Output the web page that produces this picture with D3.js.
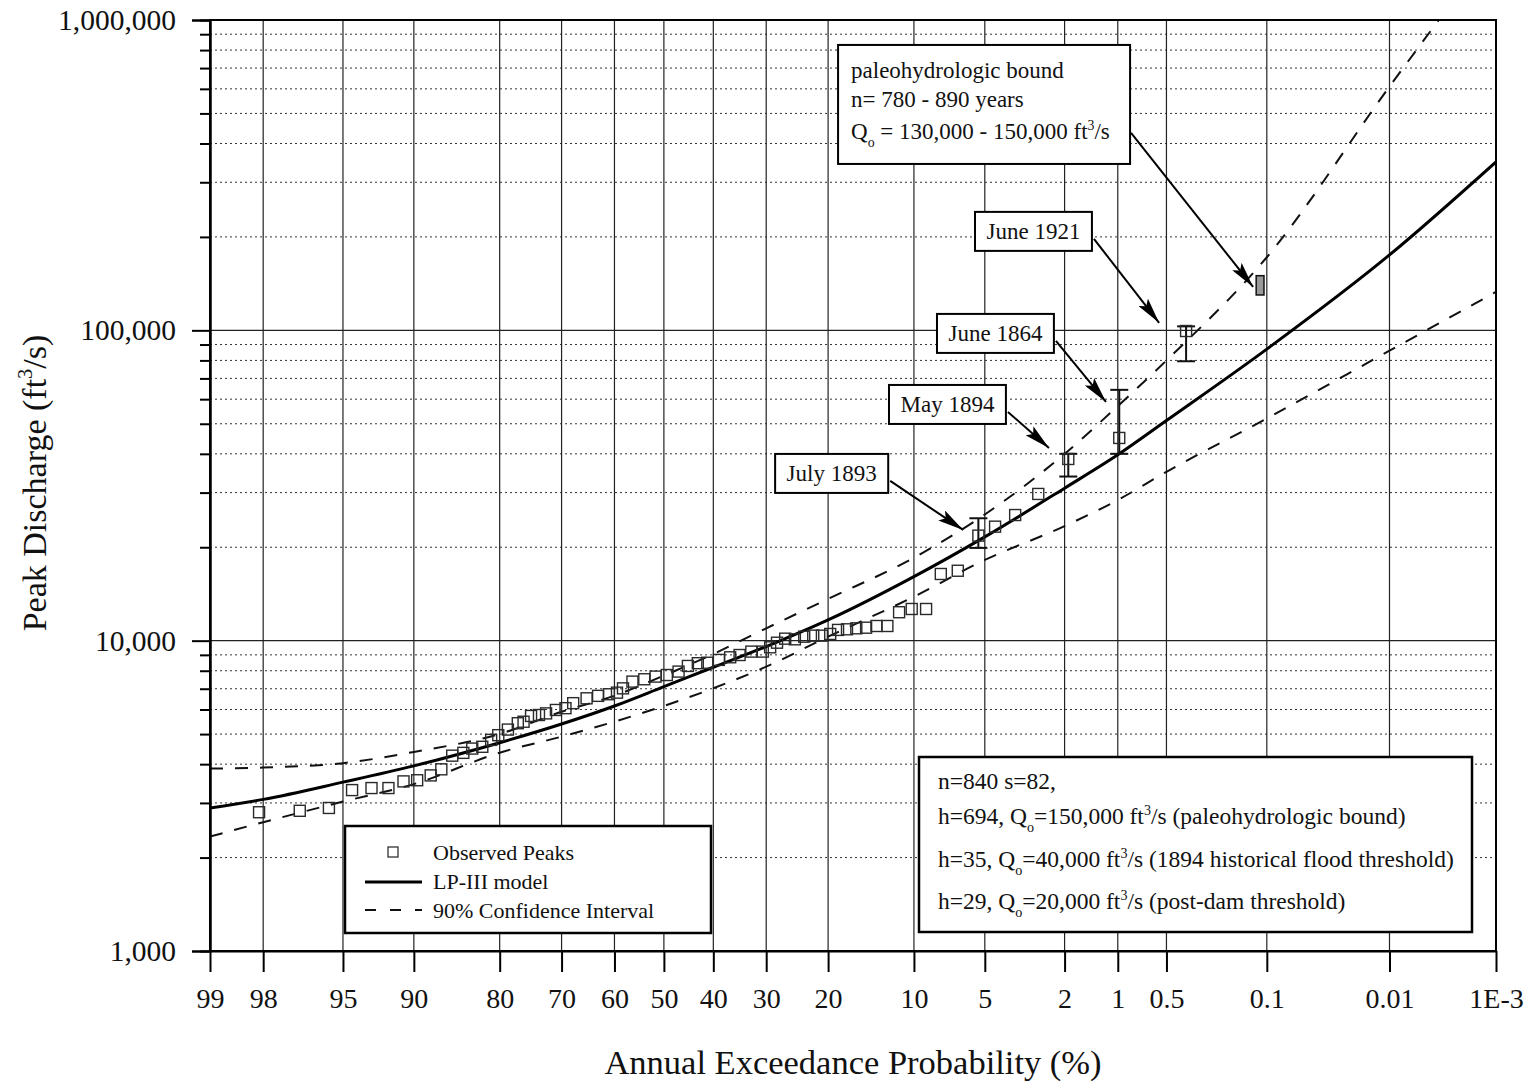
<!DOCTYPE html>
<html lang="en">
<head>
<meta charset="utf-8">
<title>Peak discharge frequency</title>
<script src="https://cdn.jsdelivr.net/npm/d3@7"></script>
<style>
body { margin: 0; background: #fff; }
text { font-family: "Liberation Serif", "Times New Roman", serif; fill: #111; }
</style>
</head>
<body>
<script>
// x axis: annual exceedance probability (%), normal probability scale
var probTicks = [99, 98, 95, 90, 80, 70, 60, 50, 40, 30, 20, 10, 5, 2, 1, 0.5, 0.1, 0.01, 0.001];
var probLabels = ["99", "98", "95", "90", "80", "70", "60", "50", "40", "30", "20", "10", "5", "2", "1", "0.5", "0.1", "0.01", "1E-3"];
var qTicks = [1000, 10000, 100000, 1000000];

// fitted LP-III curve and 90% confidence limits
var curveP = [99, 98, 95, 90, 80, 70, 60, 50, 40, 30, 20, 10, 5, 2, 1, 0.5, 0.1, 0.01, 0.001];
var lp3Q  = [2890, 3080, 3500, 3950, 4690, 5390, 6160, 7110, 8210, 9570, 11660, 16080, 21600, 31000, 39700, 51200, 87000, 175000, 349000];
var ciHiQ = [3870, 3900, 4030, 4380, 5005, 5900, 6650, 7715, 9060, 10960, 13630, 18500, 25500, 40000, 57000, 80000, 172000, 610000, 1760000];
var ciLoQ = [2336, 2600, 3030, 3450, 4355, 4906, 5483, 6160, 7024, 8245, 10300, 13860, 18200, 23400, 28400, 35000, 52000, 86000, 133000];

// observed peaks (plotting position %, discharge ft3/s)
var obsP = [98.1, 96.9, 95.7, 94.5, 93.3, 92.1, 90.9, 89.7, 88.4, 87.3,
            86.1, 84.8, 83.7, 82.4, 81.2, 80.2, 78.8, 77.3, 76.4, 75.2,
            73.9, 72.7, 71.0, 69.3, 67.9, 65.4, 63.2, 61.1, 59.5, 58.3,
            56.4, 54.0, 51.7, 49.4, 47.0, 45.1, 43.1, 41.2, 38.9, 36.7,
            34.9, 32.7, 30.6, 29.3, 28.1, 26.7, 25.1, 23.6, 22.2, 20.9,
            19.7, 18.6, 17.4, 16.2, 15.0, 13.8, 12.6, 11.4, 10.2, 8.95,
            7.79, 6.60, 5.35, 4.48, 3.59, 2.75, 1.91, 0.98, 0.372];
var obsQ = [2800, 2830, 2890, 3300, 3350, 3350, 3520, 3550, 3680, 3850,
            4260, 4350, 4490, 4550, 4790, 4960, 5170, 5420, 5480, 5720,
            5760, 5830, 5980, 6060, 6290, 6520, 6640, 6720, 6800, 7020,
            7380, 7510, 7660, 7750, 7950, 8290, 8460, 8490, 8670, 8840,
            8990, 9220, 9220, 9520, 9850, 10150, 10100, 10300, 10380, 10380,
            10510, 10830, 10880, 10960, 11010, 11150, 11150, 12350, 12650, 12650,
            16400, 16800, 21800, 23300, 25400, 29700, 38500, 45000, 99500];

// historical floods: range bars
var histName = ["July 1893", "May 1894", "June 1864", "June 1921"];
var histP  = [5.35, 1.91, 0.98, 0.372];
var histLo = [19900, 33800, 40000, 79500];
var histHi = [24800, 40000, 64300, 103000];

// paleohydrologic bound
var paleoP = [0.12, 0.105];
var paleoQ = [130000, 150000];

// label boxes: top-left corner and arrow tip in data units
var noteBoxP = [28.43, 12.43, 8.08, 5.54];
var noteBoxQ = [39970, 66680, 112950, 240800];
var noteTipP = [6.25, 2.42, 1.173, 0.557];
var noteTipQ = [22740, 41790, 58800, 105700];

var w = 1534, h = 1083;
var plotL = 210, plotR = 1496, plotT = 20, plotB = 951;

// inverse standard normal (Acklam)
function qnorm(p) {
  var a = [-3.969683028665376e+01, 2.209460984245205e+02, -2.759285104469687e+02, 1.383577518672690e+02, -3.066479806614716e+01, 2.506628277459239e+00];
  var b = [-5.447609879822406e+01, 1.615858368580409e+02, -1.556989798598866e+02, 6.680131188771972e+01, -1.328068155288572e+01];
  var c = [-7.784894002430293e-03, -3.223964580411365e-01, -2.400758277161838e+00, -2.549732539343734e+00, 4.374664141464968e+00, 2.938163982698783e+00];
  var d = [7.784695709041462e-03, 3.224671290700398e-01, 2.445134137142996e+00, 3.754408367401434e+00];
  var q, r;
  if (p < 0.02425) {
    q = Math.sqrt(-2 * Math.log(p));
    return (((((c[0]*q+c[1])*q+c[2])*q+c[3])*q+c[4])*q+c[5]) / ((((d[0]*q+d[1])*q+d[2])*q+d[3])*q+1);
  }
  if (p > 1 - 0.02425) {
    q = Math.sqrt(-2 * Math.log(1 - p));
    return -(((((c[0]*q+c[1])*q+c[2])*q+c[3])*q+c[4])*q+c[5]) / ((((d[0]*q+d[1])*q+d[2])*q+d[3])*q+1);
  }
  q = p - 0.5; r = q * q;
  return (((((a[0]*r+a[1])*r+a[2])*r+a[3])*r+a[4])*r+a[5])*q / (((((b[0]*r+b[1])*r+b[2])*r+b[3])*r+b[4])*r+1);
}
function zq(p) { return -qnorm(p / 100); }

var zScale = d3.scaleLinear()
.domain([zq(99), zq(0.001)])
.range([plotL, plotR]);
var x = function(p) { return zScale(zq(p)); };

var y = d3.scaleLog()
.domain([1000, 1000000])
.range([plotB, plotT]);

var svg = d3.select("body").append("svg")
.attr("width", w)
.attr("height", h);

svg.append("rect").attr("width", w).attr("height", h).attr("fill", "#fff");

svg.append("clipPath").attr("id", "plot")
.append("rect").attr("x", plotL).attr("y", plotT).attr("width", plotR - plotL).attr("height", plotB - plotT);

// grid
var minorQ = [];
[1000, 10000, 100000].forEach(function(dec) {
  for (var k = 2; k <= 9; k++) minorQ.push(k * dec);
});

var grid = svg.append("g");
grid.selectAll("line.minor")
.data(minorQ)
.enter().append("line")
.attr("x1", plotL).attr("x2", plotR)
.attr("y1", function(d) { return y(d); })
.attr("y2", function(d) { return y(d); })
.attr("stroke", "#333")
.attr("stroke-width", 1)
.attr("stroke-dasharray", "2,3");

grid.selectAll("line.major")
.data([10000, 100000])
.enter().append("line")
.attr("x1", plotL).attr("x2", plotR)
.attr("y1", function(d) { return y(d); })
.attr("y2", function(d) { return y(d); })
.attr("stroke", "#222")
.attr("stroke-width", 1.3);

grid.selectAll("line.vert")
.data(probTicks.slice(1, -1))
.enter().append("line")
.attr("x1", function(d) { return x(d); })
.attr("x2", function(d) { return x(d); })
.attr("y1", plotT).attr("y2", plotB)
.attr("stroke", "#222")
.attr("stroke-width", 1.2);

// curves
var line = d3.line()
.x(function(d) { return x(d[0]); })
.y(function(d) { return y(d[1]); })
.curve(d3.curveMonotoneX);

var plot = svg.append("g").attr("clip-path", "url(#plot)");

function series(vals) {
  return curveP.map(function(p, i) { return [p, vals[i]]; });
}

plot.append("path")
.attr("d", line(series(ciHiQ)))
.attr("fill", "none").attr("stroke", "#111").attr("stroke-width", 2)
.attr("stroke-dasharray", "13,12");

plot.append("path")
.attr("d", line(series(ciLoQ)))
.attr("fill", "none").attr("stroke", "#111").attr("stroke-width", 2)
.attr("stroke-dasharray", "13,12");

plot.append("path")
.attr("d", line(series(lp3Q)))
.attr("fill", "none").attr("stroke", "#000").attr("stroke-width", 3);

// historical range bars
var bars = plot.selectAll("g.bar")
.data(histP)
.enter().append("g");
bars.append("line")
.attr("x1", function(d) { return x(d); })
.attr("x2", function(d) { return x(d); })
.attr("y1", function(d, i) { return y(histLo[i]); })
.attr("y2", function(d, i) { return y(histHi[i]); })
.attr("stroke", "#111").attr("stroke-width", 2);
[histLo, histHi].forEach(function(arr) {
  bars.append("line")
  .attr("x1", function(d) { return x(d) - 9; })
  .attr("x2", function(d) { return x(d) + 9; })
  .attr("y1", function(d, i) { return y(arr[i]); })
  .attr("y2", function(d, i) { return y(arr[i]); })
  .attr("stroke", "#111").attr("stroke-width", 2);
});

// observed peaks
plot.selectAll("rect.obs")
.data(obsP)
.enter().append("rect")
.attr("x", function(d) { return x(d) - 5.5; })
.attr("y", function(d, i) { return y(obsQ[i]) - 5.5; })
.attr("width", 11).attr("height", 11)
.attr("fill", "none")
.attr("stroke", "#2a2a2a")
.attr("stroke-width", 1.4);

// paleohydrologic bound
plot.append("rect")
.attr("x", x(paleoP[0]))
.attr("y", y(paleoQ[1]))
.attr("width", x(paleoP[1]) - x(paleoP[0]))
.attr("height", y(paleoQ[0]) - y(paleoQ[1]))
.attr("fill", "#9a9a9a")
.attr("stroke", "#111")
.attr("stroke-width", 1.5);

// axes
var yAxis = d3.axisLeft(y).tickValues(qTicks).tickSize(18).tickPadding(16).tickFormat(d3.format(","));
var yMinor = d3.axisLeft(y).tickValues(minorQ).tickSize(10).tickFormat("");

var gy = svg.append("g").attr("transform", "translate(" + plotL + ",0)").call(yAxis);
svg.append("g").attr("transform", "translate(" + plotL + ",0)").call(yMinor);

var xAxis = d3.axisBottom(zScale)
.tickValues(probTicks.map(zq))
.tickSize(21)
.tickSizeOuter(0)
.tickFormat(function(d, i) { return probLabels[i]; });
var gx = svg.append("g").attr("transform", "translate(0," + plotB + ")").call(xAxis);

svg.selectAll(".tick line").attr("stroke", "#000").attr("stroke-width", 2);
svg.selectAll(".domain").attr("stroke", "#000").attr("stroke-width", 2);
svg.selectAll(".tick text").attr("font-family", "Liberation Serif, Times New Roman, serif").attr("font-size", 28).attr("fill", "#111");
gy.selectAll(".tick text").attr("font-size", 29.5);
gx.selectAll(".tick text").attr("y", 57).attr("dy", 0);

// frame
svg.append("rect")
.attr("x", plotL).attr("y", plotT)
.attr("width", plotR - plotL).attr("height", plotB - plotT)
.attr("fill", "none").attr("stroke", "#000").attr("stroke-width", 2);

// rich text helper: "_x" subscript, "^x" superscript
function rich(t, parts, fs) {
  var shift = 0;
  parts.forEach(function(s) {
    var off = 0, size = fs, str = s;
    if (s[0] === "_") { off = fs * 0.35; size = fs * 0.6; str = s.slice(1); }
    else if (s[0] === "^") { off = -fs * 0.4; size = fs * 0.6; str = s.slice(1); }
    t.append("tspan").attr("dy", off - shift).attr("font-size", size).text(str);
    shift = off;
  });
}

// arrow head
svg.append("defs").append("marker")
.attr("id", "head")
.attr("viewBox", "0 0 26 12")
.attr("refX", 26).attr("refY", 6)
.attr("markerWidth", 26).attr("markerHeight", 12)
.attr("markerUnits", "userSpaceOnUse")
.attr("orient", "auto")
.append("path")
.attr("d", "M0,0 L26,6 L0,12 L5,6 Z")
.attr("fill", "#000");

// event labels
histName.forEach(function(name, i) {
  var bx = x(noteBoxP[i]), by = y(noteBoxQ[i]);
  var g = svg.append("g");
  var r = g.append("rect").attr("fill", "#fff").attr("stroke", "#000").attr("stroke-width", 2);
  var t = g.append("text").attr("font-size", 23).attr("y", by + 27).text(name);
  var tw = t.node().getComputedTextLength();
  var bw = tw + 23;
  t.attr("x", bx + 11.5);
  r.attr("x", bx).attr("y", by).attr("width", bw).attr("height", 39);
  svg.append("line")
  .attr("x1", bx + bw + 2).attr("y1", by + 27)
  .attr("x2", x(noteTipP[i])).attr("y2", y(noteTipQ[i]))
  .attr("stroke", "#000").attr("stroke-width", 2)
  .attr("marker-end", "url(#head)");
});

// paleo label
var px = x(18.6), py = y(831000);
svg.append("rect").attr("x", px).attr("y", py).attr("width", 292).attr("height", 119)
.attr("fill", "#fff").attr("stroke", "#000").attr("stroke-width", 2);
svg.append("text").attr("x", px + 13).attr("y", py + 33).attr("font-size", 23).text("paleohydrologic bound");
svg.append("text").attr("x", px + 13).attr("y", py + 62).attr("font-size", 23).text("n= 780 - 890 years");
var pq = svg.append("text").attr("x", px + 13).attr("y", py + 94).attr("font-size", 23);
rich(pq, ["Q", "_o", " = 130,000 - 150,000 ft", "^3", "/s"], 23);
svg.append("line")
.attr("x1", px + 293).attr("y1", py + 88)
.attr("x2", x(0.1264)).attr("y2", y(138000))
.attr("stroke", "#000").attr("stroke-width", 2)
.attr("marker-end", "url(#head)");

// stats box
var sx = 919, sy = 757;
svg.append("rect").attr("x", sx).attr("y", sy).attr("width", 553).attr("height", 175)
.attr("fill", "#fff").attr("stroke", "#000").attr("stroke-width", 2.5);
var statLines = [
  ["n=840 s=82,"],
  ["h=694, Q", "_o", "=150,000 ft", "^3", "/s (paleohydrologic bound)"],
  ["h=35, Q", "_o", "=40,000 ft", "^3", "/s (1894 historical flood threshold)"],
  ["h=29, Q", "_o", "=20,000 ft", "^3", "/s (post-dam threshold)"]
];
var statY = [32, 67, 110, 152];
statLines.forEach(function(parts, i) {
  var t = svg.append("text").attr("x", sx + 19).attr("y", sy + statY[i]).attr("font-size", 23.5);
  rich(t, parts, 23.5);
});

// legend
var lx = 345, ly = 826;
svg.append("rect").attr("x", lx).attr("y", ly).attr("width", 366).attr("height", 107)
.attr("fill", "#fff").attr("stroke", "#000").attr("stroke-width", 2.5);
svg.append("rect").attr("x", lx + 43).attr("y", ly + 21).attr("width", 10).attr("height", 10)
.attr("fill", "none").attr("stroke", "#333").attr("stroke-width", 1.3);
svg.append("line").attr("x1", lx + 20).attr("x2", lx + 77).attr("y1", ly + 56).attr("y2", ly + 56)
.attr("stroke", "#000").attr("stroke-width", 3);
svg.append("line").attr("x1", lx + 20).attr("x2", lx + 77).attr("y1", ly + 84).attr("y2", ly + 84)
.attr("stroke", "#111").attr("stroke-width", 2).attr("stroke-dasharray", "11,14");
var legText = ["Observed Peaks", "LP-III model", "90% Confidence Interval"];
legText.forEach(function(s, i) {
  svg.append("text").attr("x", lx + 88).attr("y", ly + 34 + i * 29).attr("font-size", 22).text(s);
});

// axis titles
svg.append("text")
.attr("x", (plotL + plotR) / 2).attr("y", 1074)
.attr("text-anchor", "middle").attr("font-size", 34.5)
.text("Annual Exceedance Probability (%)");

var yt = svg.append("text")
.attr("transform", "translate(46,483) rotate(-90)")
.attr("text-anchor", "middle").attr("font-size", 34);
rich(yt, ["Peak Discharge (ft", "^3", "/s)"], 34);
</script>
</body>
</html>
